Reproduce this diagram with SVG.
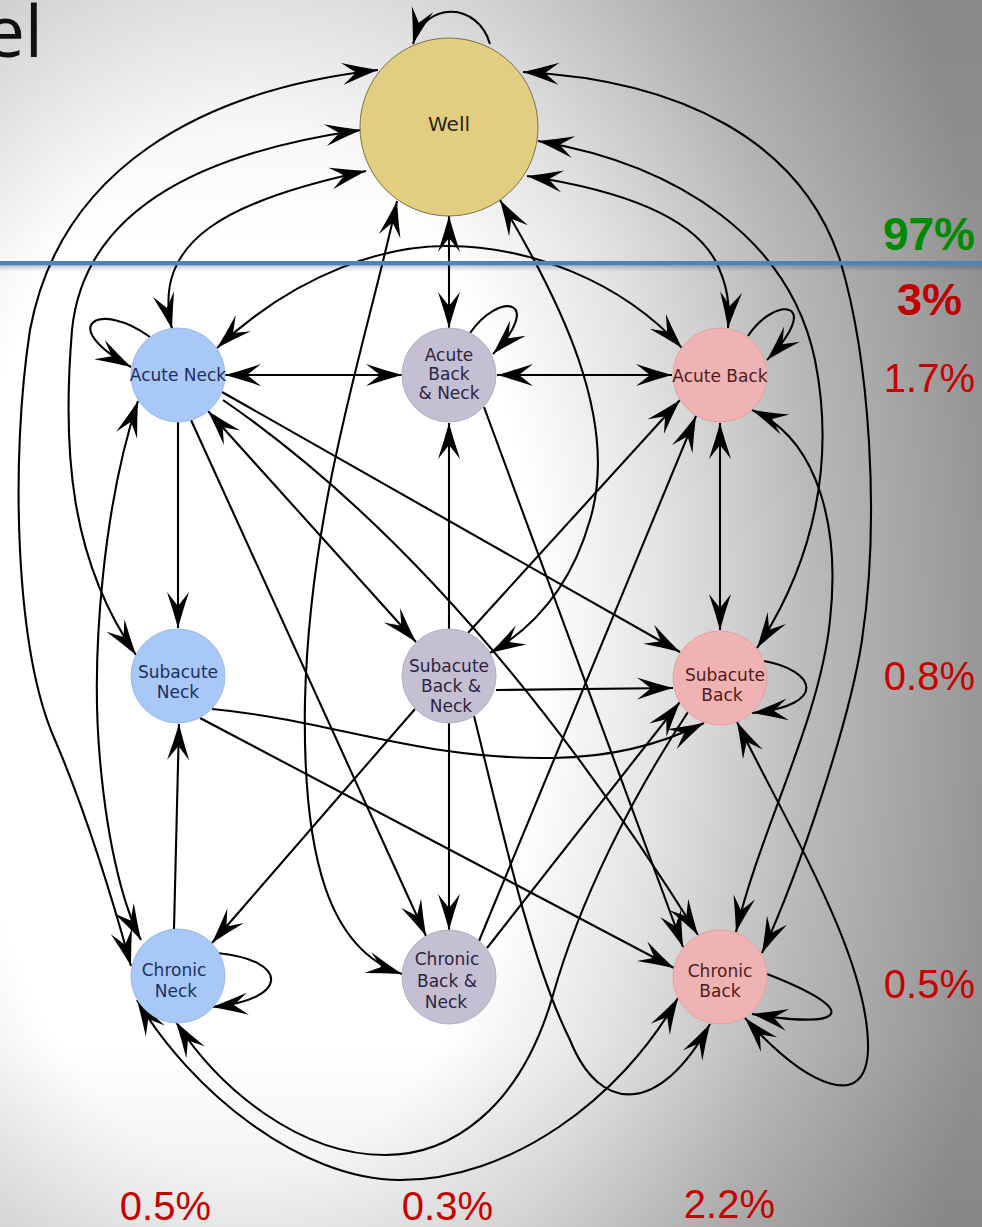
<svg xmlns="http://www.w3.org/2000/svg" width="982" height="1227" viewBox="0 0 982 1227">
<defs>
<radialGradient id="bg" gradientUnits="userSpaceOnUse" cx="250" cy="650" r="760" gradientTransform="translate(250 650) scale(1 1.8) translate(-250 -650)">
<stop offset="0" stop-color="#ffffff"/>
<stop offset="0.38" stop-color="#ffffff"/>
<stop offset="0.55" stop-color="#e2e2e2"/>
<stop offset="0.75" stop-color="#b8b8b8"/>
<stop offset="1" stop-color="#919191"/>
</radialGradient>
<linearGradient id="topshade" x1="0" y1="0" x2="0" y2="1227" gradientUnits="userSpaceOnUse">
<stop offset="0" stop-color="#000" stop-opacity="0.06"/>
<stop offset="0.2" stop-color="#000" stop-opacity="0"/>
<stop offset="0.85" stop-color="#000" stop-opacity="0"/>
<stop offset="1" stop-color="#000" stop-opacity="0.07"/>
</linearGradient>
<linearGradient id="lshadow" x1="0" y1="0" x2="0" y2="1">
<stop offset="0" stop-color="#000" stop-opacity="0.2"/>
<stop offset="1" stop-color="#000" stop-opacity="0"/>
</linearGradient>
<marker id="ah" viewBox="-40 -14 42 28" refX="0" refY="0" markerWidth="42" markerHeight="28" markerUnits="userSpaceOnUse" orient="auto-start-reverse">
<path d="M0,0 Q-18,-5 -36,-11 L-22,0 L-36,11 Q-18,5 0,0 Z" fill="#000"/>
</marker>
</defs>
<style>
.e{fill:none;stroke:#000;stroke-width:2.1;marker-end:url(#ah)}
.b{marker-start:url(#ah)}
.lbl{font-family:"DejaVu Sans",Verdana,sans-serif;font-size:17px;text-anchor:middle}
.blue .lbl{fill:#1d2f5e}
.purp .lbl{fill:#2c2540}
.pink .lbl{fill:#4f1c1c}
.blue circle{fill:#a8c8f7;stroke:#9dbbe8;stroke-width:1}
.purp circle{fill:#c5bfd3;stroke:#b4aec4;stroke-width:1}
.pink circle{fill:#f0b3b3;stroke:#e0a2a2;stroke-width:1}
.pct{font-family:"Liberation Sans",Arial,sans-serif;text-anchor:end}
.red{fill:#c80000;font-size:40px}
</style>

<rect x="0" y="0" width="982" height="1227" fill="url(#bg)"/>
<rect x="0" y="0" width="982" height="1227" fill="url(#topshade)"/>

<text x="43" y="57" font-family="'Open Sans',Lato,sans-serif" font-size="72" fill="#111" text-anchor="end">el</text>

<g id="connectors">
<path class="e" d="M490,44 C478,2 425,0 413,44"/>
<path class="e b" d="M366,171 C230,200 150,240 172,329"/>
<path class="e b" d="M361,130 C220,150 85,200 72,330 C62,450 70,560 136,655"/>
<path class="e b" d="M378,70 C200,90 60,170 30,330 C10,460 15,650 55,740 C85,810 110,890 131,966"/>
<path class="e b" d="M449,216 L449,328"/>
<path class="e b" d="M397,201 C370,330 310,500 305,700 C302,860 330,950 402,974"/>
<path class="e b" d="M500,200 C560,300 620,420 590,520 C570,590 530,630 490,653"/>
<path class="e b" d="M527,176 C620,190 690,215 715,260 C728,285 730,305 728,328"/>
<path class="e b" d="M538,141 C680,165 790,240 815,360 C835,460 815,560 757,648"/>
<path class="e b" d="M523,72 C680,80 800,140 840,260 C870,360 880,520 862,640 C850,720 800,870 762,953"/>

<path class="e" d="M150,337 C100,300 55,325 131,367"/>
<path class="e b" d="M225,375 L402,375"/>
<path class="e b" d="M217,348 C300,270 390,245 449,246 C530,247 620,280 682,348"/>
<path class="e" d="M178,422 L178,628"/>
<path class="e b" d="M208,411 L416,642"/>
<path class="e" d="M222,392 L680,652"/>
<path class="e" d="M223,400 Q470,570 698,935"/>
<path class="e" d="M191,420 L426,936"/>
<path class="e b" d="M138,401 C105,500 90,650 100,760 C108,850 125,910 141,940"/>

<path class="e" d="M470,333 C500,290 545,300 493,354"/>
<path class="e b" d="M497,375 L672,375"/>
<path class="e" d="M449,629 L449,423"/>
<path class="e" d="M484,407 L683,947"/>

<path class="e" d="M748,336 C775,295 825,300 767,360"/>
<path class="e b" d="M720,423 L720,630"/>
<path class="e" d="M468,633 L680,400"/>
<path class="e" d="M479,941 L696,416"/>
<path class="e b" d="M752,410 C820,440 840,530 830,620 C820,720 760,830 736,932"/>

<path class="e" d="M174,929 L179,724"/>
<path class="e" d="M212,709 C330,720 420,760 553,758 C620,757 670,740 704,723"/>
<path class="e" d="M200,718 L674,968"/>
<path class="e" d="M496,690 L673,688"/>
<path class="e" d="M415,709 L212,943"/>
<path class="e" d="M449,723 L449,930"/>
<path class="e" d="M474,716 C500,820 530,960 570,1040 C600,1115 660,1115 710,1024"/>
<path class="e" d="M764,661 C815,670 830,705 752,713"/>
<path class="e" d="M487,948 L680,702"/>
<path class="e" d="M688,712 C630,800 580,900 553,995 C520,1110 450,1155 385,1155 C300,1155 220,1090 176,1022"/>
<path class="e b" d="M737,722 C790,830 870,960 868,1050 C866,1110 810,1090 745,1018"/>
<path class="e" d="M217,953 C290,960 290,1000 212,1007"/>
<path class="e b" d="M137,1000 C190,1090 300,1180 400,1180 C510,1180 620,1100 678,998"/>
<path class="e" d="M767,974 C860,1010 850,1030 752,1014"/>
</g>

<g id="well">
<circle cx="449" cy="127" r="89" fill="#e2ce80" stroke="#7d7048" stroke-width="1"/>
<text x="449" y="131" font-family="'DejaVu Sans',Verdana,sans-serif" font-size="20" text-anchor="middle" fill="#2a2515">Well</text>
</g>
<g id="acute-neck" class="blue">
<circle cx="178" cy="375" r="47"/>
<text class="lbl" x="178" y="381">Acute Neck</text>
</g>
<g id="acute-back-neck" class="purp">
<circle cx="449" cy="375" r="47"/>
<text class="lbl" x="449" y="361">Acute</text>
<text class="lbl" x="449" y="380">Back</text>
<text class="lbl" x="449" y="399">&amp; Neck</text>
</g>
<g id="acute-back" class="pink">
<circle cx="720" cy="375" r="47"/>
<text class="lbl" x="720" y="382">Acute Back</text>
</g>
<g id="subacute-neck" class="blue">
<circle cx="178" cy="676" r="47"/>
<text class="lbl" x="178" y="678">Subacute</text>
<text class="lbl" x="178" y="698">Neck</text>
</g>
<g id="subacute-back-neck" class="purp">
<circle cx="449" cy="676" r="47"/>
<text class="lbl" x="449" y="672">Subacute</text>
<text class="lbl" x="451" y="692">Back &amp;</text>
<text class="lbl" x="451" y="712">Neck</text>
</g>
<g id="subacute-back" class="pink">
<circle cx="720" cy="678" r="47"/>
<text class="lbl" x="725" y="681">Subacute</text>
<text class="lbl" x="722" y="701">Back</text>
</g>
<g id="chronic-neck" class="blue">
<circle cx="178" cy="976" r="47"/>
<text class="lbl" x="174" y="976">Chronic</text>
<text class="lbl" x="176" y="997">Neck</text>
</g>
<g id="chronic-back-neck" class="purp">
<circle cx="449" cy="977" r="47"/>
<text class="lbl" x="447" y="965">Chronic</text>
<text class="lbl" x="447" y="987">Back &amp;</text>
<text class="lbl" x="446" y="1008">Neck</text>
</g>
<g id="chronic-back" class="pink">
<circle cx="720" cy="977" r="47"/>
<text class="lbl" x="720" y="977">Chronic</text>
<text class="lbl" x="720" y="997">Back</text>
</g>

<g id="divider">
<rect x="0" y="265.5" width="982" height="6" fill="url(#lshadow)"/>
<rect x="0" y="261" width="982" height="4.5" fill="#4f81bd"/>
</g>

<g id="percentages">
<text class="pct" x="975" y="250" font-size="46" font-weight="bold" fill="#008a00">97%</text>
<text class="pct" x="962" y="315" font-size="45" font-weight="bold" fill="#c00000">3%</text>
<text class="pct red" x="975" y="392">1.7%</text>
<text class="pct red" x="975" y="690">0.8%</text>
<text class="pct red" x="975" y="998">0.5%</text>
<text class="pct red" x="211" y="1220">0.5%</text>
<text class="pct red" x="493" y="1220">0.3%</text>
<text class="pct red" x="775" y="1218">2.2%</text>
</g>
</svg>
